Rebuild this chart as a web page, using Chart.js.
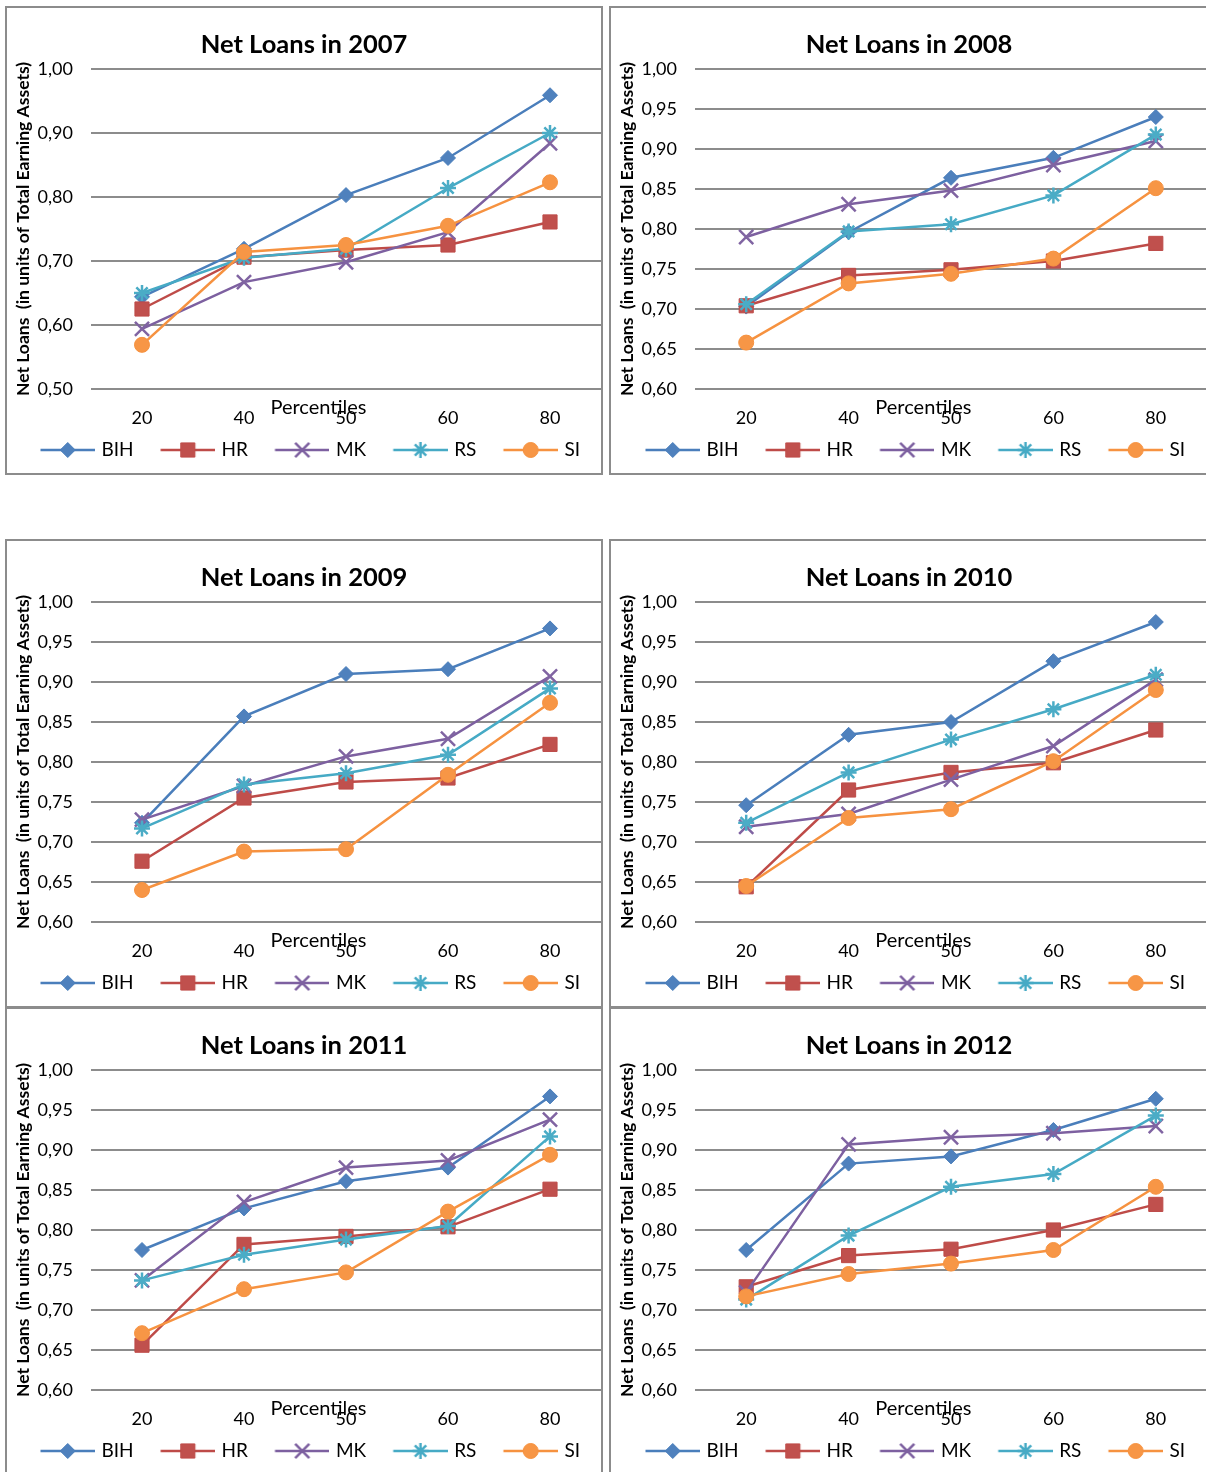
<!DOCTYPE html>
<html>
<head>
<meta charset="utf-8">
<title>Net Loans 2007-2012</title>
<script src="https://cdn.jsdelivr.net/npm/chart.js@4.4.1/dist/chart.umd.min.js"></script>
<style>
  html, body { margin: 0; padding: 0; background: #fff; }
  body { width: 1206px; height: 1472px; position: relative; overflow: hidden; }
  .panel { position: absolute; border: 2px solid #8c8c8c; background: #fff; }
  .panel canvas { display: block; }
</style>
</head>
<body>
<div class="panel" style="left:5px;top:6px"><canvas id="c2007" width="594" height="465"></canvas></div>
<div class="panel" style="left:609px;top:6px"><canvas id="c2008" width="596" height="465"></canvas></div>
<div class="panel" style="left:5px;top:539px"><canvas id="c2009" width="594" height="465"></canvas></div>
<div class="panel" style="left:609px;top:539px"><canvas id="c2010" width="596" height="465"></canvas></div>
<div class="panel" style="left:5px;top:1007px"><canvas id="c2011" width="594" height="465"></canvas></div>
<div class="panel" style="left:609px;top:1007px"><canvas id="c2012" width="596" height="465"></canvas></div>
<script>
// DATA
const percentiles = ['20', '40', '50', '60', '80'];
const countries = ['BIH', 'HR', 'MK', 'RS', 'SI'];

// one row per country, same order as countries
const loans2007 = [
    [0.644, 0.719, 0.803, 0.861, 0.959],
    [0.625, 0.706, 0.717, 0.725, 0.761],
    [0.594, 0.667, 0.698, 0.745, 0.884],
    [0.650, 0.705, 0.719, 0.814, 0.900],
    [0.569, 0.714, 0.725, 0.755, 0.823]
];
const loans2008 = [
    [0.703, 0.796, 0.864, 0.889, 0.940],
    [0.704, 0.742, 0.749, 0.760, 0.782],
    [0.790, 0.831, 0.848, 0.880, 0.910],
    [0.706, 0.797, 0.806, 0.842, 0.918],
    [0.658, 0.732, 0.744, 0.763, 0.851]
];
const loans2009 = [
    [0.724, 0.857, 0.910, 0.916, 0.967],
    [0.676, 0.755, 0.775, 0.780, 0.822],
    [0.728, 0.770, 0.807, 0.829, 0.907],
    [0.717, 0.772, 0.786, 0.809, 0.892],
    [0.640, 0.688, 0.691, 0.784, 0.874]
];
const loans2010 = [
    [0.746, 0.834, 0.850, 0.926, 0.975],
    [0.644, 0.765, 0.787, 0.799, 0.840],
    [0.719, 0.735, 0.778, 0.820, 0.903],
    [0.724, 0.787, 0.828, 0.866, 0.909],
    [0.645, 0.730, 0.741, 0.801, 0.890]
];
const loans2011 = [
    [0.775, 0.827, 0.861, 0.878, 0.967],
    [0.656, 0.782, 0.792, 0.804, 0.851],
    [0.737, 0.835, 0.878, 0.887, 0.938],
    [0.737, 0.769, 0.788, 0.805, 0.917],
    [0.671, 0.726, 0.747, 0.823, 0.894]
];
const loans2012 = [
    [0.775, 0.883, 0.892, 0.925, 0.964],
    [0.729, 0.768, 0.776, 0.800, 0.832],
    [0.722, 0.907, 0.916, 0.921, 0.930],
    [0.713, 0.793, 0.854, 0.870, 0.943],
    [0.717, 0.745, 0.758, 0.775, 0.854]
];

// y tick labels (comma decimals)
const ticks2007 = ['0,50', '0,60', '0,70', '0,80', '0,90', '1,00'];
const ticksLater = ['0,60', '0,65', '0,70', '0,75', '0,80', '0,85', '0,90', '0,95', '1,00'];

// STYLE
const lineColors = ['#4A7EBB', '#BE4B48', '#7D60A0', '#46AAC5', '#F69240'];
const markerColors = ['#4F81BD', '#C0504D', '#8064A2', '#4BACC6', '#F79646'];
const markerStyles = ['rectRot', 'rect', 'crossRot', 'star', 'circle'];
const markerRadius = [7.5, 10, 10, 8, 7.5];
const FONT = 'Lato, "Open Sans", sans-serif';

Chart.defaults.color = '#000';
Chart.defaults.font.family = FONT;

function toNumber(label) {
    return parseFloat(label.replace(',', '.'));
}

// small marker drawer for the legend icons
function drawMarker(ctx, style, x, y, r, fill, stroke) {
    ctx.fillStyle = fill;
    ctx.strokeStyle = stroke;
    ctx.beginPath();
    if (style === 'rectRot') {
        ctx.moveTo(x - r, y); ctx.lineTo(x, y - r); ctx.lineTo(x + r, y); ctx.lineTo(x, y + r);
        ctx.closePath(); ctx.fill(); ctx.lineWidth = 1; ctx.stroke();
    } else if (style === 'rect') {
        var s = r * Math.SQRT1_2;
        ctx.rect(x - s, y - s, 2 * s, 2 * s); ctx.fill(); ctx.lineWidth = 1; ctx.stroke();
    } else if (style === 'circle') {
        ctx.arc(x, y, r, 0, Math.PI * 2); ctx.fill(); ctx.lineWidth = 1; ctx.stroke();
    } else if (style === 'crossRot') {
        var d = r * Math.SQRT1_2;
        ctx.moveTo(x - d, y - d); ctx.lineTo(x + d, y + d);
        ctx.moveTo(x - d, y + d); ctx.lineTo(x + d, y - d);
        ctx.lineWidth = 2.5; ctx.stroke();
    } else if (style === 'star') {
        var d2 = r * Math.SQRT1_2;
        ctx.moveTo(x, y - r); ctx.lineTo(x, y + r);
        ctx.moveTo(x - r, y); ctx.lineTo(x + r, y);
        ctx.moveTo(x - d2, y - d2); ctx.lineTo(x + d2, y + d2);
        ctx.moveTo(x - d2, y + d2); ctx.lineTo(x + d2, y - d2);
        ctx.lineWidth = 2.5; ctx.stroke();
    }
}

// legend icons: blank lead-in on the left, then line + marker (keeps the
// wide gap between entries but a small gap before the text)
const ICON_BOX = 64;
var legendIcons = countries.map(function (c, i) {
    var cv = document.createElement('canvas');
    cv.width = 70;
    cv.height = 22;
    var ctx = cv.getContext('2d');
    var x0 = 15.5, x1 = 70;
    ctx.strokeStyle = lineColors[i];
    ctx.lineWidth = 2.5;
    ctx.beginPath();
    ctx.moveTo(x0, 11);
    ctx.lineTo(x1, 11);
    ctx.stroke();
    drawMarker(ctx, markerStyles[i], (x0 + x1) / 2, 11, markerRadius[i], markerColors[i], lineColors[i]);
    return cv;
});

// "Percentiles" sits a bit left of centre, over the tick labels, like the original
const percentilesLabel = {
    id: 'percentilesLabel',
    afterDraw(chart) {
        var area = chart.chartArea;
        var ctx = chart.ctx;
        ctx.save();
        ctx.font = '20px ' + FONT;
        ctx.fillStyle = '#000';
        ctx.textAlign = 'center';
        ctx.textBaseline = 'middle';
        ctx.fillText('Percentiles', area.left + area.width * 0.446, area.bottom + 19);
        ctx.restore();
    }
};

function makeChart(canvasId, year, rows, tickLabels) {
    var ctx = document.getElementById(canvasId).getContext('2d');
    var datasets = rows.map(function (values, i) {
        var cross = markerStyles[i] === 'crossRot' || markerStyles[i] === 'star';
        return {
            label: countries[i],
            data: values,
            borderColor: lineColors[i],
            backgroundColor: markerColors[i],
            borderWidth: 2.5,
            pointStyle: markerStyles[i],
            pointRadius: markerRadius[i],
            pointBackgroundColor: markerColors[i],
            pointBorderColor: cross ? markerColors[i] : lineColors[i],
            pointBorderWidth: cross ? 2.5 : 1,
            tension: 0,
            fill: false,
            order: countries.length - i
        };
    });
    return new Chart(ctx, {
        type: 'line',
        data: { labels: percentiles, datasets: datasets },
        options: {
            responsive: false,
            animation: false,
            devicePixelRatio: 1,
            layout: { autoPadding: false, padding: { left: 0, right: 0, top: 0, bottom: 3.5 } },
            plugins: {
                title: {
                    display: true,
                    text: 'Net Loans in ' + year,
                    color: '#000',
                    font: { size: 25.5, weight: 'bold', family: FONT },
                    padding: { top: 21.7, bottom: 8.7 }
                },
                legend: {
                    position: 'bottom',
                    labels: {
                        usePointStyle: true,
                        pointStyleWidth: ICON_BOX,
                        padding: 14.5,
                        color: '#000',
                        font: { size: 19, family: FONT },
                        sort: function (a, b) { return a.datasetIndex - b.datasetIndex; },
                        generateLabels: function (chart) {
                            var items = Chart.defaults.plugins.legend.labels.generateLabels(chart);
                            items.forEach(function (item) {
                                item.pointStyle = legendIcons[item.datasetIndex];
                            });
                            return items;
                        }
                    }
                },
                tooltip: { enabled: false }
            },
            scales: {
                x: {
                    offset: true,
                    grid: { display: false, drawTicks: false },
                    border: { display: false },
                    ticks: { padding: 18, font: { size: 18, family: FONT }, color: '#000', maxRotation: 0 },
                    afterFit: function (scale) { scale.height = 37; }
                },
                y: {
                    min: toNumber(tickLabels[0]),
                    max: toNumber(tickLabels[tickLabels.length - 1]),
                    grid: { color: '#8c8c8c', lineWidth: 2, drawTicks: false },
                    border: { display: false },
                    afterBuildTicks: function (scale) {
                        scale.ticks = tickLabels.map(function (t) { return { value: toNumber(t) }; });
                    },
                    ticks: {
                        padding: 18,
                        font: { size: 18, family: FONT },
                        color: '#000',
                        callback: function (value, index) { return tickLabels[index]; }
                    },
                    title: {
                        display: true,
                        text: 'Net Loans  (in units of Total Earning Assets)',
                        color: '#000',
                        font: { size: 17.5, weight: 'bold', family: FONT },
                        padding: { top: 6, bottom: 0 }
                    },
                    afterFit: function (scale) { scale.width = 84; }
                }
            }
        },
        plugins: [percentilesLabel]
    });
}

makeChart('c2007', 2007, loans2007, ticks2007);
makeChart('c2008', 2008, loans2008, ticksLater);
makeChart('c2009', 2009, loans2009, ticksLater);
makeChart('c2010', 2010, loans2010, ticksLater);
makeChart('c2011', 2011, loans2011, ticksLater);
makeChart('c2012', 2012, loans2012, ticksLater);
</script>
</body>
</html>
